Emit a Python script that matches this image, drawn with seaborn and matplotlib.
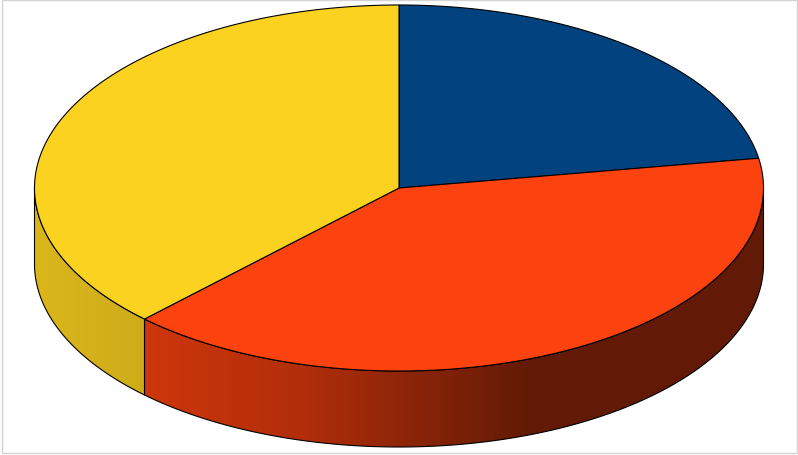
import numpy as np
import matplotlib
matplotlib.use("Agg")
import matplotlib.pyplot as plt
from matplotlib.patches import Polygon, Rectangle
import seaborn as sns

# slices, clockwise from 12 o'clock
categories = ["Blue", "Orange", "Yellow"]
shares = [22.4, 39.9, 37.7]
slice_colors = ["#02437f", "#fc420e", "#fbd21f"]

sns.set_theme(style="white")
palette = sns.color_palette(slice_colors)

W, H = 798, 456
cx, cy = 399, 189          # centre of the top face (pixels)
rx, ry = 364.5, 183        # radii of the top face
depth = 76                 # thickness of the pie
edge_kw = dict(edgecolor="black", linewidth=0.8)


def ell(t, drop=0.0):
    r = np.radians(t)
    return cx + rx * np.cos(r), cy - ry * np.sin(r) + drop


def shade(x):
    # darkening of the side wall from left to right
    f = (x - (cx - rx)) / (2 * rx)
    return np.interp(f, [0, 0.15, 0.37, 0.68, 1], [0.87, 0.82, 0.70, 0.39, 0.39])


fig = plt.figure(figsize=(W / 100, H / 100), dpi=100)
ax = fig.add_axes([0, 0, 1, 1])
ax.set_axis_off()

total = sum(shares)
bounds = 90 - 360 * np.concatenate([[0], np.cumsum(shares)]) / total

for i, col in enumerate(palette):
    a0, a1 = bounds[i], bounds[i + 1]
    # front wall (only the part facing the viewer)
    hi, lo = min(a0, 0), max(a1, -180)
    if hi > lo:
        t = np.linspace(hi, lo, 200)
        xt, yt = ell(t)
        xb, yb = ell(t, depth)
        pts = np.column_stack([np.r_[xt, xb[::-1]], np.r_[yt, yb[::-1]]])
        side = Polygon(pts, closed=True, facecolor="none", zorder=2, **edge_kw)
        ax.add_patch(side)
        x0, x1 = pts[:, 0].min(), pts[:, 0].max()
        xs = np.linspace(x0, x1, 400)
        grad = np.clip(np.array(col)[None, :] * shade(xs)[:, None], 0, 1)[None]
        img = ax.imshow(grad, extent=(x0, x1, pts[:, 1].max(), pts[:, 1].min()),
                        aspect="auto", interpolation="bilinear", zorder=1)
        img.set_clip_path(side)
    # top face
    t = np.linspace(a0, a1, 300)
    xt, yt = ell(t)
    top = Polygon(np.column_stack([np.r_[cx, xt], np.r_[cy, yt]]), closed=True,
                  facecolor=col, zorder=3, **edge_kw)
    ax.add_patch(top)

ax.add_patch(Rectangle((1.5, 1.0), 795.5, 453, fill=False,
                       edgecolor="#d4d4d4", linewidth=1, zorder=4))
ax.set_xlim(0, W)
ax.set_ylim(H, 0)

fig.savefig("out.png", dpi=100)
